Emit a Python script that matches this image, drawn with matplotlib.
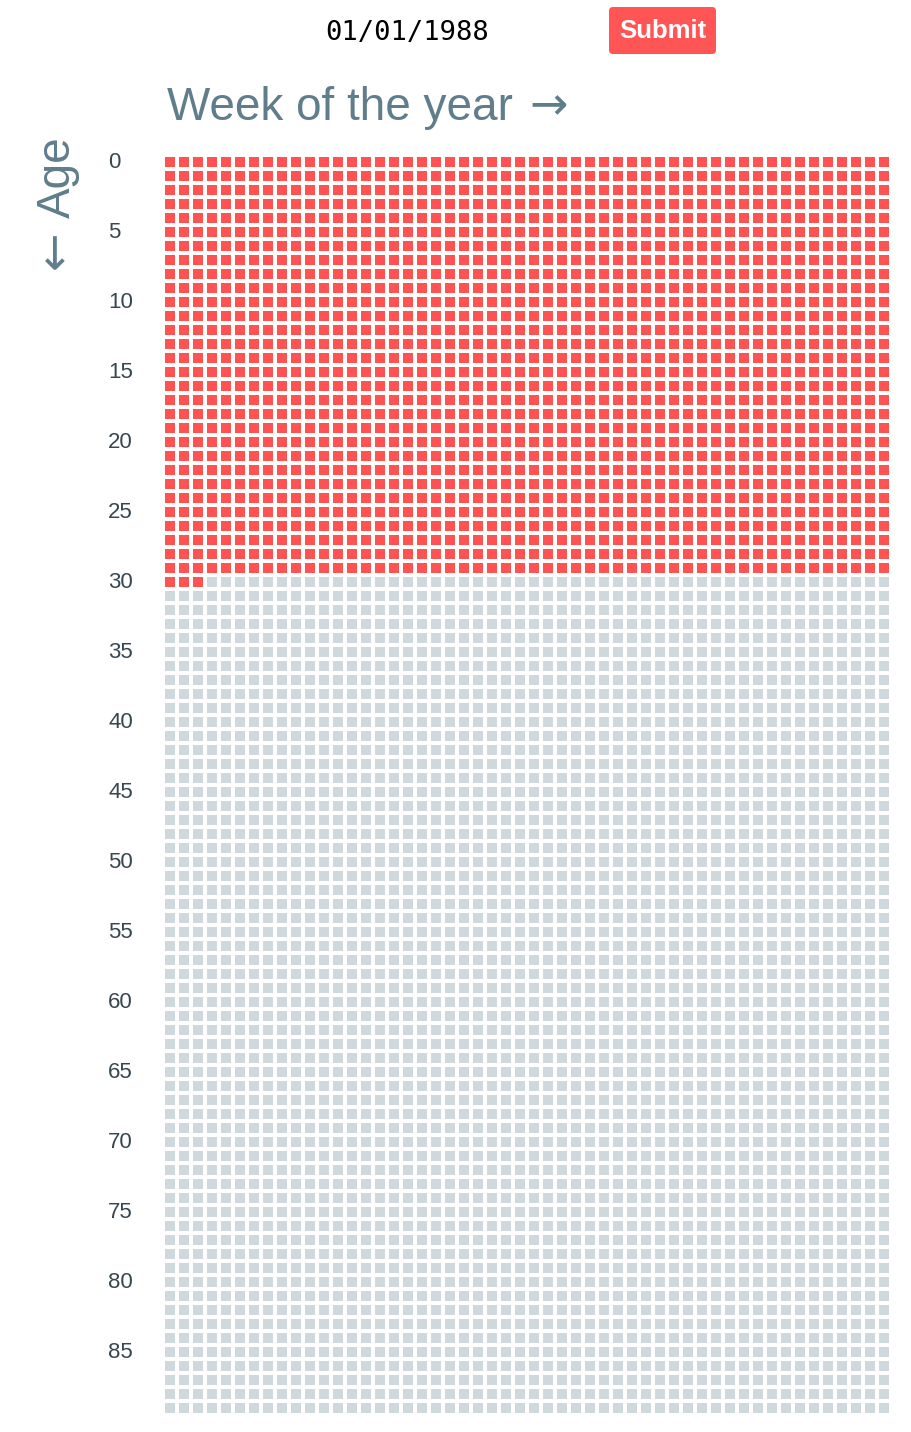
import matplotlib
matplotlib.use('Agg')
import matplotlib.pyplot as plt
from matplotlib.patches import Rectangle, FancyBboxPatch
from matplotlib.collections import PatchCollection
import numpy as np

# life calendar: one square per week, one row per year of age
birth_date = '01/01/1988'
n_years = 90
weeks_per_year = 52
weeks_lived = 30 * 52 + 3
age_ticks = list(range(0, 90, 5))

red = '#FF5252'
grey = '#CFD8DC'
label_col = '#607D8B'
tick_col = '#37474F'

plt.rcParams['font.family'] = ['Liberation Sans', 'DejaVu Sans']

W, H = 911, 1432
fig = plt.figure(figsize=(W / 100, H / 100), dpi=100)

# overlay axes in pixel units for the header bits
over = fig.add_axes([0, 0, 1, 1])
over.set_xlim(0, W)
over.set_ylim(H, 0)
over.axis('off')

over.text(407, 33, birth_date, family='DejaVu Sans Mono', size=19.5,
          ha='center', va='center', color='k')
btn = FancyBboxPatch((609, 7), 107, 47,
                     boxstyle='round,pad=0,rounding_size=4',
                     fc='#FF5555', ec='none')
over.add_patch(btn)
over.text(663, 31, 'Submit', color='white', size=18.5, ha='center',
          va='center', weight='bold')
over.text(167, 120, 'Week of the year', color=label_col, size=33,
          ha='left', va='baseline')
over.text(529, 119, '\u2192', color=label_col, size=33, family='DejaVu Sans',
          ha='left', va='baseline')
over.text(58, 177, 'Age', color=label_col, size=33, rotation=90,
          ha='center', va='center')
over.text(56, 250, '\u2190', color=label_col, size=33, rotation=90,
          family='DejaVu Sans', ha='center', va='center')

# the grid itself
ax = fig.add_axes([165 / W, (H - 157 - n_years * 14) / H,
                   weeks_per_year * 14 / W, n_years * 14 / H])
sq = 10 / 14
rects, cols = [], []
for age in range(n_years):
    for wk in range(weeks_per_year):
        idx = age * weeks_per_year + wk
        rects.append(Rectangle((wk, age), sq, sq))
        cols.append(red if idx < weeks_lived else grey)
ax.add_collection(PatchCollection(rects, facecolors=cols, edgecolors='none'))
ax.set_xlim(0, weeks_per_year)
ax.set_ylim(n_years, 0)
ax.set_xticks([])
ax.set_yticks(np.array(age_ticks) + 0.2)
ax.set_yticklabels([str(a) for a in age_ticks])
ax.tick_params(axis='y', length=0, pad=41, labelsize=16, labelcolor=tick_col)
for lbl in ax.get_yticklabels():
    lbl.set_ha('left')
for s in ax.spines.values():
    s.set_visible(False)
ax.patch.set_alpha(0)

fig.savefig('out.png', dpi=100)
